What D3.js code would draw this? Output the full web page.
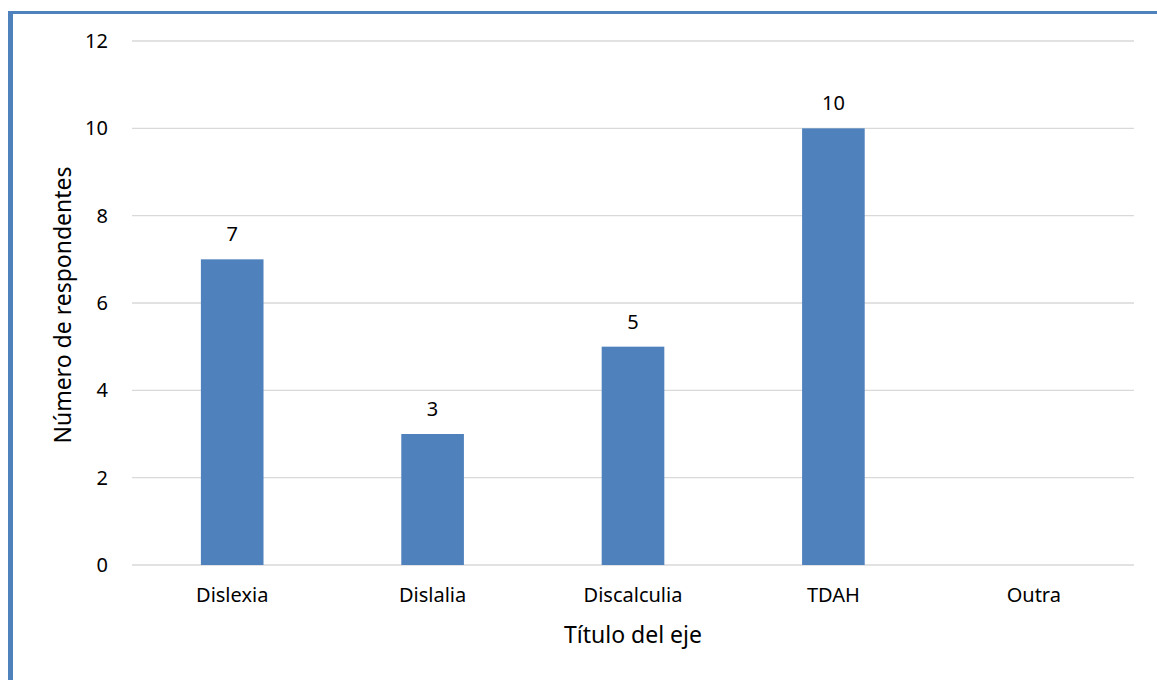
<!DOCTYPE html>
<html>
<head>
<meta charset="utf-8">
<script src="https://cdn.jsdelivr.net/npm/d3@7"></script>
<style>
  html, body { margin: 0; padding: 0; background: #fff; }
  svg { display: block; }
  text { font-family: "Noto Sans", "Open Sans", "Liberation Sans", sans-serif; fill: #000; }
</style>
</head>
<body>
<svg id="chart" width="1157" height="680"></svg>
<script>
const categories = ["Dislexia", "Dislalia", "Discalculia", "TDAH", "Outra"];
const values = [7, 3, 5, 10, 0];
const yTicks = [0, 2, 4, 6, 8, 10, 12];
const yTitle = "Número de respondentes";
const xTitle = "Título del eje";

const FONT = "'Noto Sans', 'Open Sans', sans-serif";
const svg = d3.select("#chart");
const W = 1157, H = 680;
const plot = { left: 132, right: 1134, top: 41, bottom: 565 };

// frame: blue strip on top and left
svg.append("rect").attr("x", 8).attr("y", 11).attr("width", W - 8).attr("height", 3).attr("fill", "#4F81BD");
svg.append("rect").attr("x", 8).attr("y", 11).attr("width", 5).attr("height", H - 11).attr("fill", "#4F81BD");

const x = d3.scaleBand().domain(categories).range([plot.left, plot.right]).paddingInner(0.6875).paddingOuter(0.34375);
const y = d3.scaleLinear().domain([0, 12]).range([plot.bottom, plot.top]);

// horizontal gridlines
svg.append("g").selectAll("line").data(yTicks).join("line")
  .attr("x1", plot.left).attr("x2", plot.right)
  .attr("y1", d => y(d)).attr("y2", d => y(d))
  .attr("stroke", "#D9D9D9").attr("stroke-width", 1.3);

// y tick labels
const yAxis = svg.append("g").attr("transform", `translate(${plot.left},0)`)
  .call(d3.axisLeft(y).tickValues(yTicks).tickSize(0).tickPadding(24));
yAxis.select(".domain").remove();
yAxis.selectAll("text").style("font-size", "20px").style("font-family", FONT).attr("fill", "#000");

// category labels
const xAxis = svg.append("g").attr("transform", `translate(0,${plot.bottom})`)
  .call(d3.axisBottom(x).tickSize(0).tickPadding(23));
xAxis.select(".domain").remove();
xAxis.selectAll("text").style("font-size", "20px").style("font-family", FONT).attr("fill", "#000");

// bars
svg.append("g").selectAll("rect").data(categories).join("rect")
  .attr("x", d => x(d))
  .attr("width", x.bandwidth())
  .attr("y", (d, i) => y(values[i]))
  .attr("height", (d, i) => y(0) - y(values[i]))
  .attr("fill", "#4F81BD");

// value labels
svg.append("g").selectAll("text").data(categories.filter((d, i) => values[i] > 0)).join("text")
  .attr("x", d => x(d) + x.bandwidth() / 2)
  .attr("y", d => y(values[categories.indexOf(d)]) - 18)
  .attr("text-anchor", "middle")
  .style("font-size", "20px")
  .text(d => values[categories.indexOf(d)]);

// axis titles
svg.append("text")
  .attr("transform", `translate(71,305) rotate(-90)`)
  .attr("text-anchor", "middle")
  .style("font-size", "23px")
  .text(yTitle);

svg.append("text")
  .attr("x", (plot.left + plot.right) / 2)
  .attr("y", 643)
  .attr("text-anchor", "middle")
  .style("font-size", "23px")
  .text(xTitle);
</script>
</body>
</html>
